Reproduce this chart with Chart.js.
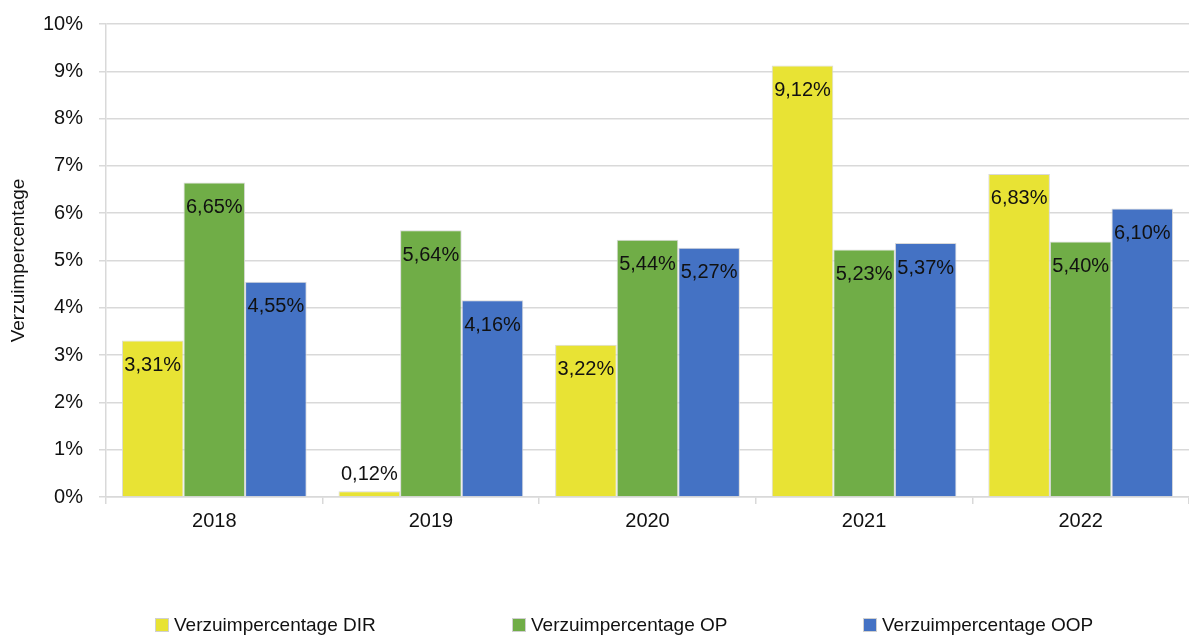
<!DOCTYPE html>
<html>
<head>
<meta charset="utf-8">
<script src="https://cdn.jsdelivr.net/npm/chart.js@4"></script>
<style>
    html, body { margin: 0; padding: 0; background: #fff; }
    #wrap { position: relative; width: 1189px; height: 637px; }
    #legend { position: absolute; left: 0; top: 0; width: 100%; height: 100%; pointer-events: none; }
    .item { position: absolute; top: 614px; font: 19px "Liberation Sans", Arial, sans-serif; color: #111; white-space: nowrap; }
    .item i { display: inline-block; width: 12px; height: 12px; border: 1px solid #d0d0d0; margin-right: 5px; vertical-align: -1px; }
</style>
</head>
<body>
<div id="wrap">
    <canvas id="chart" width="1189" height="637"></canvas>
    <div id="legend"></div>
</div>
<script>
const years = ["2018", "2019", "2020", "2021", "2022"];
const dirValues = [3.31, 0.12, 3.22, 9.12, 6.83];
const opValues = [6.65, 5.64, 5.44, 5.23, 5.40];
const oopValues = [4.55, 4.16, 5.27, 5.37, 6.10];
const seriesNames = ["Verzuimpercentage DIR", "Verzuimpercentage OP", "Verzuimpercentage OOP"];
const seriesColors = ["#e8e334", "#70ad47", "#4472c4"];
const legendX = [155, 512, 863];

const FONT = "'Liberation Sans', Arial, sans-serif";

function pct(v) {
    return v.toFixed(2).replace(".", ",") + "%";
}

// value labels: inside the top of the bar, or above it when the bar is too short
const barLabels = {
    id: "barLabels",
    afterDatasetsDraw(chart) {
        const ctx = chart.ctx;
        ctx.save();
        ctx.font = "20px " + FONT;
        ctx.fillStyle = "#111";
        ctx.textAlign = "center";
        ctx.textBaseline = "middle";
        chart.data.datasets.forEach((ds, i) => {
            chart.getDatasetMeta(i).data.forEach((bar, j) => {
                const h = bar.base - bar.y;
                const y = h > 40 ? bar.y + 25 : bar.y - 17;
                ctx.fillText(pct(ds.data[j]), bar.x, y);
            });
        });
        ctx.restore();
    }
};

new Chart(document.getElementById("chart"), {
    type: "bar",
    data: {
        labels: years,
        datasets: [dirValues, opValues, oopValues].map((values, i) => ({
            label: seriesNames[i],
            data: values,
            backgroundColor: seriesColors[i],
            borderColor: "#d9d9d9",
            borderWidth: 1,
            categoryPercentage: 0.853,
            barPercentage: 1
        }))
    },
    options: {
        responsive: false,
        animation: false,
        layout: { padding: { top: 24, right: 0, bottom: 100, left: 0 } },
        plugins: {
            legend: { display: false },
            tooltip: { enabled: false }
        },
        scales: {
            x: {
                grid: {
                    offset: true,
                    drawOnChartArea: false,
                    drawTicks: true,
                    tickLength: 7,
                    color: "#d9d9d9",
                    lineWidth: 1.5
                },
                border: { color: "#d9d9d9", width: 1.5 },
                ticks: { color: "#111", font: { family: FONT, size: 20 }, padding: 5 },
                afterFit: scale => { scale.height = 40; }
            },
            y: {
                min: 0,
                max: 10,
                ticks: {
                    stepSize: 1,
                    color: "#111",
                    font: { family: FONT, size: 20 },
                    padding: 16,
                    callback: v => v + "%"
                },
                grid: { color: "#d9d9d9", lineWidth: 1.5, tickLength: 7 },
                border: { color: "#d9d9d9", width: 1.5 },
                title: {
                    display: true,
                    text: "Verzuimpercentage",
                    color: "#111",
                    font: { family: FONT, size: 19 },
                    padding: { top: 7, bottom: 0 }
                },
                afterFit: scale => {
                    scale.width = 106;
                    scale.paddingTop = 0;
                    scale.paddingBottom = 0;
                }
            }
        }
    },
    plugins: [barLabels]
});

const legend = document.getElementById("legend");
seriesNames.forEach((name, i) => {
    const el = document.createElement("div");
    el.className = "item";
    el.style.left = legendX[i] + "px";
    el.innerHTML = `<i style="background:${seriesColors[i]}"></i>${name}`;
    legend.appendChild(el);
});
</script>
</body>
</html>
